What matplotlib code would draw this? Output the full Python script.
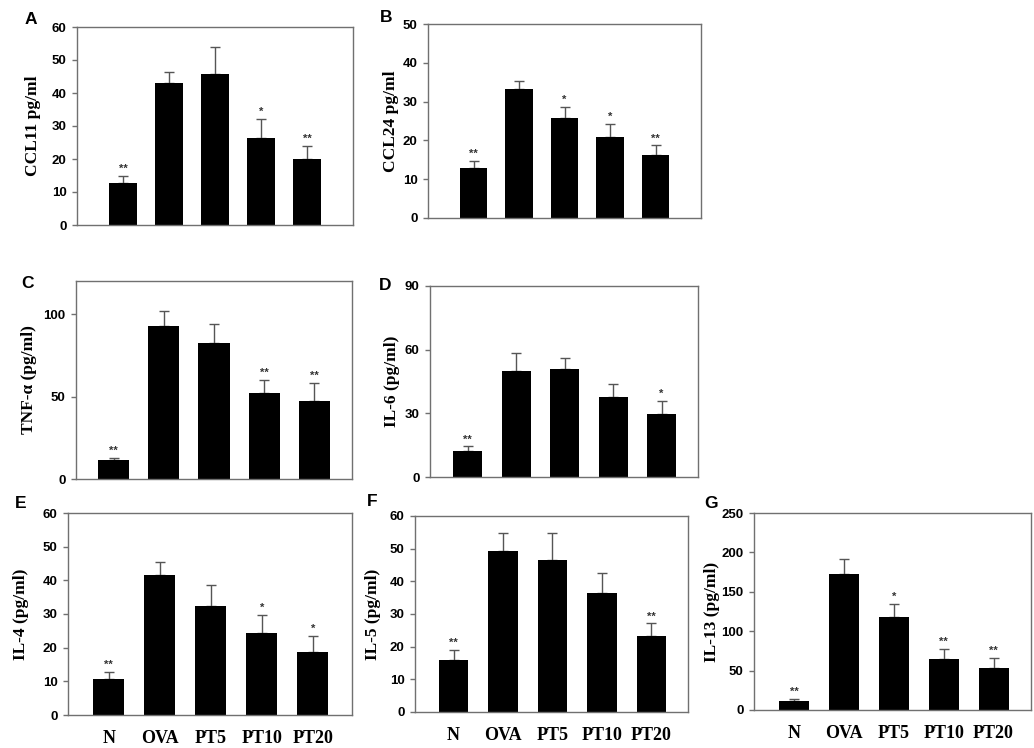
import matplotlib
matplotlib.use("Agg")
import matplotlib.pyplot as plt

groups = ['N', 'OVA', 'PT5', 'PT10', 'PT20']

ccl11 = [12.8, 43.0, 45.8, 26.5, 19.9]
ccl11_err = [2.1, 3.5, 8.2, 5.5, 4.1]
ccl11_sig = ['**', '', '', '*', '**']

ccl24 = [13.0, 33.2, 25.9, 20.8, 16.2]
ccl24_err = [1.8, 2.1, 2.8, 3.4, 2.5]
ccl24_sig = ['**', '', '*', '*', '**']

tnf = [11.3, 92.7, 82.2, 51.9, 47.3]
tnf_err = [1.6, 9.1, 11.7, 8.1, 10.7]
tnf_sig = ['**', '', '', '**', '**']

il6 = [12.2, 50.0, 51.1, 37.5, 29.8]
il6_err = [2.2, 8.3, 4.9, 6.1, 6.0]
il6_sig = ['**', '', '', '', '*']

il4 = [10.7, 41.7, 32.5, 24.5, 18.7]
il4_err = [2.0, 3.7, 6.2, 5.1, 4.8]
il4_sig = ['**', '', '', '*', '*']

il5 = [15.8, 49.2, 46.6, 36.5, 23.4]
il5_err = [3.1, 5.7, 8.2, 6.2, 3.7]
il5_sig = ['**', '', '', '', '**']

il13 = [12, 172, 118, 65, 53]
il13_err = [2, 19, 17, 13, 13]
il13_sig = ['**', '', '*', '**', '**']

W, H = 1034, 748
fig = plt.figure(figsize=(W / 100, H / 100), dpi=100)

serif = ['Liberation Serif', 'DejaVu Serif']
sans = ['Liberation Sans', 'DejaVu Sans']
spine_col = '#707070'


def px_axes(x0, y0, x1, y1):
    # pixel box -> figure fraction
    return fig.add_axes([x0 / W, 1 - y1 / H, (x1 - x0) / W, (y1 - y0) / H])


def panel(box, vals, errs, sig, ylabel, ylim, yticks, xlim, letter, letter_xy, ylab_x, bottom_row=False, width=0.6):
    ax = px_axes(*box)
    x = list(range(len(vals)))
    ax.bar(x, vals, width=width, color='black', zorder=2)
    ax.errorbar(x, vals, yerr=[[0] * len(errs), errs], fmt='none', ecolor='#555555',
                elinewidth=1.0, capsize=3.5, capthick=1.0, zorder=1)
    for xi, v, e, s in zip(x, vals, errs, sig):
        if s:
            ax.annotate(s, (xi, v + e), xytext=(0, 1.5), textcoords='offset points',
                        ha='center', va='bottom', fontsize=8, fontweight='bold',
                        family=sans, color='#333333')
    ax.set_xlim(*xlim)
    ax.set_ylim(*ylim)
    ax.set_yticks(yticks)
    ax.set_yticklabels([str(t) for t in yticks], fontsize=9.5, fontweight='bold', family=sans)
    ax.tick_params(axis='y', direction='out', length=3.5, width=1, color=spine_col, pad=4)
    if bottom_row:
        ax.set_xticks(x)
        ax.set_xticklabels(groups, fontsize=13, fontweight='bold', family=serif)
        ax.tick_params(axis='x', length=0, pad=10.5)
    else:
        ax.set_xticks([])
    for sp in ax.spines.values():
        sp.set_color(spine_col)
        sp.set_linewidth(1)
    yc = (box[1] + box[3]) / 2
    fig.text(ylab_x / W, 1 - yc / H, ylabel, rotation=90, ha='center', va='center',
             fontsize=12.5, fontweight='bold', family=serif)
    fig.text(letter_xy[0] / W, 1 - letter_xy[1] / H, letter, ha='center', va='center',
             fontsize=12.5, fontweight='bold', family=sans)
    return ax


panel((77, 27, 353, 225), ccl11, ccl11_err, ccl11_sig, 'CCL11 pg/ml',
      (0, 60), range(0, 61, 10), (-1, 5), 'A', (31, 20), 33)
panel((428, 24, 701, 218), ccl24, ccl24_err, ccl24_sig, 'CCL24 pg/ml',
      (0, 50), range(0, 51, 10), (-1, 5), 'B', (386, 18), 391)
panel((76, 281, 352, 479), tnf, tnf_err, tnf_sig, 'TNF-α (pg/ml)',
      (0, 120), [0, 50, 100], (-0.75, 4.75), 'C', (28, 283), 29, width=0.62)
panel((430, 286, 698, 477), il6, il6_err, il6_sig, 'IL-6 (pg/ml)',
      (0, 90), [0, 30, 60, 90], (-0.78, 4.75), 'D', (385, 285), 392)
panel((68, 513, 352, 715), il4, il4_err, il4_sig, 'IL-4 (pg/ml)',
      (0, 60), range(0, 61, 10), (-0.8, 4.77), 'E', (21, 503), 21, bottom_row=True)
panel((415, 516, 688, 712), il5, il5_err, il5_sig, 'IL-5 (pg/ml)',
      (0, 60), range(0, 61, 10), (-0.78, 4.74), 'F', (372, 502), 373, bottom_row=True)
panel((754, 513, 1031, 710), il13, il13_err, il13_sig, 'IL-13 (pg/ml)',
      (0, 250), range(0, 251, 50), (-0.8, 4.75), 'G', (711, 503), 712, bottom_row=True)

fig.savefig('out.png', dpi=100, facecolor='white')
